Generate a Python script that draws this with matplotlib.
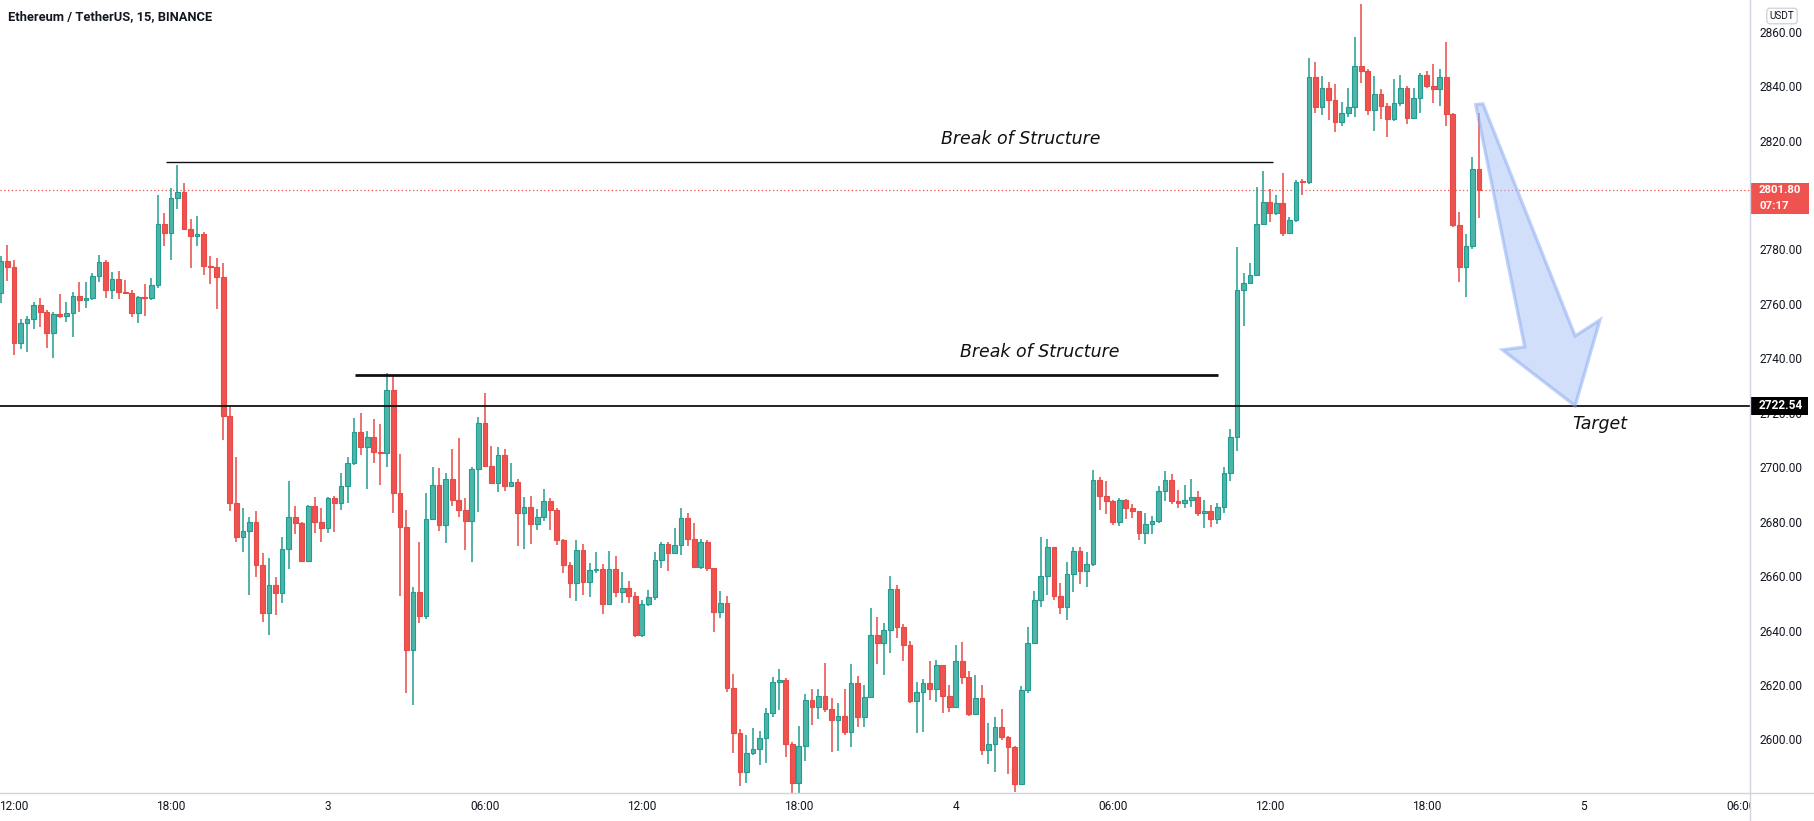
import matplotlib
matplotlib.use('Agg')
import matplotlib.pyplot as plt
import matplotlib.transforms as mtransforms
from matplotlib.patches import Rectangle, Polygon
from matplotlib.lines import Line2D

# ---------------- data ----------------
first_index = -2
opens = [2763.9, 2775.9, 2773.4, 2745.5, 2752.9, 2754.3, 2759.6, 2756.9, 2749.4, 2756.2,
         2755.7, 2756.5, 2762.9, 2761.4, 2762.0, 2770.3, 2775.4, 2765.1, 2769.0, 2764.3,
         2763.9, 2756.8, 2762.4, 2762.1, 2767.0, 2789.4, 2786.2, 2798.8, 2801.0, 2787.5,
         2785.1, 2785.7, 2773.9, 2773.4, 2770.0, 2718.8, 2687.0, 2674.5, 2676.7, 2680.0,
         2664.1, 2646.6, 2656.7, 2653.9, 2669.8, 2681.6, 2679.4, 2665.6, 2685.8, 2680.0,
         2677.6, 2688.6, 2686.7, 2693.1, 2701.4, 2713.0, 2707.3, 2711.0, 2705.7, 2705.1,
         2728.2, 2690.4, 2678.2, 2632.9, 2654.0, 2645.5, 2680.9, 2693.5, 2678.9, 2695.5,
         2688.1, 2684.2, 2680.2, 2699.4, 2716.1, 2700.3, 2694.3, 2704.4, 2693.1, 2694.5,
         2683.3, 2685.3, 2679.3, 2681.6, 2687.5, 2684.3, 2673.1, 2664.1, 2657.6, 2669.6,
         2658.0, 2662.2, 2662.6, 2649.7, 2662.5, 2654.2, 2655.5, 2652.8, 2638.3, 2649.6,
         2652.2, 2665.9, 2671.8, 2668.6, 2671.4, 2681.2, 2673.8, 2663.4, 2672.6, 2662.8,
         2646.9, 2650.2, 2618.8, 2602.5, 2588.1, 2595.1, 2596.3, 2600.4, 2609.8, 2621.2,
         2621.9, 2598.4, 2583.8, 2597.7, 2614.4, 2611.8, 2615.9, 2611.0, 2607.1, 2608.6,
         2602.8, 2620.8, 2608.3, 2615.7, 2638.3, 2635.5, 2640.2, 2655.2, 2641.3, 2634.8,
         2614.0, 2617.3, 2620.6, 2618.6, 2627.2, 2616.1, 2612.0, 2628.7, 2623.1, 2609.4,
         2615.3, 2596.0, 2598.3, 2604.4, 2600.9, 2597.2, 2583.5, 2618.0, 2635.3, 2651.1,
         2660.2, 2670.5, 2652.8, 2648.5, 2660.6, 2669.3, 2661.7, 2664.4, 2695.4, 2689.6,
         2687.6, 2679.7, 2688.0, 2685.0, 2683.9, 2675.9, 2679.2, 2680.4, 2691.1, 2695.4,
         2687.6, 2687.0, 2688.0, 2689.1, 2683.0, 2683.9, 2681.0, 2685.5, 2698.0, 2711.0,
         2765.1, 2767.6, 2770.6, 2789.4, 2797.6, 2793.5, 2796.9, 2786.2, 2790.8, 2804.9,
         2804.6, 2843.2, 2832.2, 2839.2, 2834.9, 2827.0, 2830.0, 2832.2, 2847.4, 2845.7,
         2831.2, 2837.1, 2832.6, 2828.0, 2833.7, 2839.2, 2828.3, 2835.5, 2844.1, 2840.0,
         2838.8, 2843.2, 2829.6, 2789.0, 2773.4, 2781.2, 2809.4]
highs = [2777.6, 2781.6, 2776.1, 2754.3, 2755.6, 2760.8, 2762.3, 2757.8, 2757.2, 2763.6,
         2760.8, 2764.3, 2768.1, 2768.1, 2771.2, 2778.0, 2776.1, 2771.7, 2772.1, 2768.8,
         2765.1, 2762.9, 2767.3, 2769.4, 2800.0, 2793.3, 2802.5, 2811.0, 2804.5, 2791.1,
         2792.3, 2786.5, 2777.6, 2776.7, 2774.9, 2722.3, 2703.6, 2684.9, 2681.8, 2684.0,
         2668.4, 2666.5, 2659.5, 2674.5, 2695.1, 2685.8, 2680.0, 2686.1, 2689.0, 2684.9,
         2689.2, 2689.4, 2698.0, 2703.9, 2718.0, 2719.8, 2713.4, 2717.6, 2715.9, 2734.7,
         2733.9, 2704.9, 2684.3, 2655.9, 2672.7, 2690.4, 2700.2, 2699.6, 2697.8, 2706.6,
         2710.6, 2688.6, 2700.0, 2718.3, 2727.2, 2707.8, 2707.3, 2706.6, 2701.7, 2695.6,
         2689.2, 2689.4, 2684.5, 2691.9, 2688.6, 2684.9, 2673.5, 2665.3, 2673.3, 2671.8,
         2664.9, 2669.0, 2664.4, 2669.3, 2667.4, 2661.6, 2658.3, 2654.2, 2651.2, 2654.9,
         2668.9, 2672.6, 2672.6, 2677.5, 2684.9, 2683.3, 2679.6, 2673.8, 2673.2, 2662.9,
         2654.6, 2652.7, 2624.0, 2603.7, 2601.6, 2604.0, 2603.2, 2611.4, 2623.0, 2625.7,
         2622.4, 2599.1, 2604.9, 2616.7, 2618.4, 2618.4, 2628.2, 2615.1, 2613.2, 2618.4,
         2627.7, 2623.3, 2620.0, 2648.1, 2644.8, 2642.9, 2660.0, 2656.8, 2642.4, 2636.3,
         2621.1, 2622.2, 2628.7, 2629.1, 2627.5, 2620.0, 2634.8, 2635.8, 2625.2, 2623.7,
         2620.0, 2605.9, 2608.2, 2611.2, 2601.2, 2597.5, 2619.5, 2641.3, 2654.6, 2674.3,
         2673.5, 2670.8, 2657.6, 2665.2, 2670.5, 2670.5, 2669.0, 2699.1, 2696.4, 2694.9,
         2688.0, 2688.8, 2688.3, 2686.5, 2684.0, 2683.0, 2681.9, 2693.0, 2698.7, 2697.6,
         2691.5, 2693.6, 2695.6, 2691.1, 2688.0, 2686.0, 2687.0, 2700.0, 2714.0, 2781.0,
         2771.5, 2775.1, 2803.1, 2808.9, 2802.1, 2800.0, 2808.2, 2792.0, 2805.5, 2805.8,
         2850.2, 2849.0, 2843.7, 2841.6, 2840.8, 2834.3, 2839.2, 2857.9, 2870.2, 2846.2,
         2843.7, 2838.8, 2833.7, 2842.5, 2844.1, 2840.0, 2839.2, 2845.0, 2845.7, 2848.1,
         2846.2, 2856.3, 2830.3, 2793.9, 2785.7, 2813.8, 2830.3]
lows = [2760.5, 2768.5, 2741.2, 2743.4, 2742.5, 2750.7, 2751.4, 2743.9, 2740.0, 2754.7,
        2753.4, 2748.0, 2757.2, 2758.4, 2761.4, 2768.2, 2762.1, 2761.7, 2761.7, 2763.6,
        2755.3, 2753.1, 2755.7, 2761.4, 2765.7, 2781.3, 2776.1, 2794.8, 2787.2, 2773.1,
        2781.3, 2770.6, 2767.3, 2758.0, 2710.0, 2684.0, 2672.7, 2669.0, 2653.1, 2659.8,
        2643.3, 2638.4, 2645.7, 2650.2, 2662.5, 2675.4, 2665.0, 2665.3, 2675.7, 2672.7,
        2676.0, 2676.3, 2684.3, 2687.0, 2700.8, 2704.5, 2691.9, 2701.4, 2693.5, 2700.2,
        2683.3, 2652.5, 2617.2, 2612.7, 2642.7, 2644.1, 2680.6, 2676.7, 2672.0, 2685.8,
        2681.6, 2669.4, 2665.0, 2683.7, 2700.0, 2694.1, 2691.0, 2691.4, 2693.0, 2671.1,
        2669.8, 2671.8, 2676.9, 2680.4, 2676.9, 2671.4, 2661.0, 2651.8, 2651.0, 2653.1,
        2652.2, 2661.0, 2646.0, 2649.4, 2652.2, 2650.2, 2650.2, 2637.7, 2637.7, 2649.0,
        2651.2, 2662.8, 2662.0, 2668.3, 2667.7, 2671.0, 2662.8, 2662.5, 2662.0, 2639.6,
        2644.5, 2617.5, 2594.9, 2582.9, 2584.1, 2594.2, 2590.6, 2591.4, 2608.1, 2610.8,
        2593.6, 2579.9, 2580.2, 2592.2, 2605.3, 2607.4, 2610.2, 2595.5, 2595.8, 2601.6,
        2597.1, 2604.4, 2604.4, 2615.4, 2627.7, 2623.6, 2631.8, 2637.1, 2628.7, 2613.5,
        2602.4, 2602.8, 2614.3, 2613.9, 2609.7, 2610.0, 2611.5, 2620.3, 2608.5, 2608.9,
        2594.2, 2591.1, 2588.1, 2599.8, 2587.2, 2580.8, 2583.1, 2617.0, 2635.0, 2648.5,
        2653.0, 2651.1, 2645.9, 2643.9, 2654.1, 2657.2, 2656.1, 2663.7, 2684.2, 2682.7,
        2678.9, 2678.4, 2680.9, 2681.2, 2673.3, 2671.8, 2675.4, 2679.4, 2687.6, 2686.5,
        2685.0, 2685.0, 2685.4, 2681.9, 2677.8, 2678.0, 2679.0, 2683.0, 2695.0, 2706.0,
        2752.0, 2767.3, 2770.3, 2789.0, 2790.2, 2792.6, 2785.0, 2785.7, 2790.2, 2800.0,
        2804.0, 2830.3, 2829.4, 2827.6, 2823.3, 2825.4, 2828.8, 2828.5, 2841.0, 2829.4,
        2823.6, 2827.8, 2821.2, 2827.3, 2832.7, 2826.1, 2828.2, 2830.3, 2839.2, 2833.7,
        2832.7, 2825.4, 2788.1, 2768.2, 2762.6, 2780.0, 2791.4]
closes = opens[1:] + [2801.8]

time_tick_pos = [0, 24, 48, 72, 96, 120, 144, 168, 192, 216, 240, 264]
time_tick_labels = ["12:00", "18:00", "3", "06:00", "12:00", "18:00",
                    "4", "06:00", "12:00", "18:00", "5", "06:00"]
price_ticks = [2600, 2620, 2640, 2660, 2680, 2700, 2720, 2740, 2760, 2780, 2820, 2840, 2860]
last_price = 2801.80
countdown = "07:17"
target_price = 2722.54
bos_upper_price = 2812.1
bos_upper_span = (23.3, 192.5)
bos_lower_price = 2733.9
bos_lower_span = (52.1, 184.1)

# ---------------- figure ----------------
W, H = 1814, 821
AX_R, AX_B = 1750, 793
fig = plt.figure(figsize=(W / 100, H / 100), dpi=100)
fig.patch.set_facecolor('white')
ax = fig.add_axes([0, 1 - AX_B / H, AX_R / W, AX_B / H])
ax.set_xlim(-2.14, 265.44)
ax.set_ylim(2580.3, 2871.65)
for s in ax.spines.values():
    s.set_visible(False)

UP_FILL, UP_EDGE = '#4cb5a8', '#229c90'
DN_FILL, DN_EDGE = '#ef5350', '#e84a47'

xs = [first_index + k for k in range(len(opens))]
for x, o, h, l, c in zip(xs, opens, highs, lows, closes):
    up = c >= o
    edge = UP_EDGE if up else DN_EDGE
    fill = UP_FILL if up else DN_FILL
    ax.vlines(x, l, h, color=edge, linewidth=1.1, zorder=2)
    body = max(abs(c - o), 0.45)
    ax.bar(x, body, bottom=min(o, c), width=0.72, color=fill,
           edgecolor=edge, linewidth=0.8, zorder=3)

# horizontal lines
ax.axhline(last_price, color='#ef5350', linestyle=(0, (1, 2)), linewidth=0.9, zorder=1)
ax.axhline(target_price, color='#111111', linewidth=1.3, zorder=4)
ax.hlines(bos_upper_price, *bos_upper_span, color='#111111', linewidth=1.0, zorder=4)
ax.hlines(bos_lower_price, *bos_lower_span, color='#111111', linewidth=2.0, zorder=4)

bos_font = dict(family='DejaVu Sans', style='italic', fontsize=12.5, color='#111111')
ax.text(154.0, 2820.5, 'Break of Structure', ha='center', va='center', **bos_font)
ax.text(156.9, 2742.2, 'Break of Structure', ha='center', va='center', **bos_font)
ax.text(242.5, 2716.0, 'Target', ha='center', va='center', **bos_font)

# arrow drawing (anchored in chart coordinates)
arrow_pts = [(223.5, 2833.2), (224.6, 2833.5), (238.7, 2748.2), (242.5, 2754.1),
             (238.7, 2722.54), (227.6, 2743.1), (231.0, 2744.2)]
ax.add_patch(Polygon(arrow_pts, closed=True, facecolor='#a6c0f8', alpha=0.5,
                     edgecolor='#86a8f3', linewidth=2.4, zorder=5, clip_on=False))

# axes ticks
ax.set_xticks(time_tick_pos)
ax.set_xticklabels(time_tick_labels)
ax.yaxis.tick_right()
ax.set_yticks(price_ticks)
ax.set_yticklabels([f'{p:.2f}' for p in price_ticks])
ax.tick_params(axis='both', length=0, labelsize=8.6, labelcolor='#131722')
ax.tick_params(axis='y', pad=6.5)
ax.tick_params(axis='x', pad=5)
for lbl in ax.get_yticklabels() + ax.get_xticklabels():
    lbl.set_family('Roboto')
clip_bb = mtransforms.TransformedBbox(mtransforms.Bbox.from_extents(0, 0, AX_R / W, 1),
                                      fig.transFigure)
for lbl in ax.get_xticklabels():
    lbl.set_clip_on(True)
    lbl.set_clip_box(clip_bb)

# frame lines
fig.add_artist(Line2D([AX_R / W, AX_R / W], [0, 1], color='#d1d4dc', linewidth=1.0))
fig.add_artist(Line2D([0, 1], [1 - AX_B / H, 1 - AX_B / H], color='#d1d4dc', linewidth=1.0))

# price labels on the scale
trans = mtransforms.blended_transform_factory(fig.transFigure, ax.transData)
lab_x = (AX_R + 9) / W
ax.add_patch(Rectangle((AX_R / W, last_price - 8.6), 59 / W, 11.3, transform=trans,
                       facecolor='#ef5350', edgecolor='none', clip_on=False, zorder=10))
ax.text(lab_x, last_price, f'{last_price:.2f}', transform=trans, ha='left', va='center',
        color='white', fontsize=8.2, family='Roboto', weight='bold', zorder=11, clip_on=False)
ax.text(lab_x, last_price - 5.9, countdown, transform=trans, ha='left', va='center',
        color='white', fontsize=8.2, family='Roboto', weight='bold', zorder=11, clip_on=False)
ax.add_patch(Rectangle((AX_R / W, target_price - 3.4), 58 / W, 6.6, transform=trans,
                       facecolor='#000000', edgecolor='none', clip_on=False, zorder=10))
ax.text(lab_x, target_price, f'{target_price:.2f}', transform=trans, ha='left', va='center',
        color='white', fontsize=8.6, family='Roboto', weight='bold', zorder=11, clip_on=False)

fig.text(1782 / W, 1 - 16 / H, 'USDT', ha='center', va='center', fontsize=7.2,
         family='Roboto', color='#131722',
         bbox=dict(boxstyle='round,pad=0.28,rounding_size=0.3', fc='white', ec='#c8cbd3', lw=0.8))

fig.text(8 / W, 1 - 17 / H, 'Ethereum / TetherUS, 15, BINANCE', ha='left', va='center',
         fontsize=9.3, family='Roboto', weight='bold', color='#131722')

fig.savefig('out.png', dpi=100, facecolor='white')
